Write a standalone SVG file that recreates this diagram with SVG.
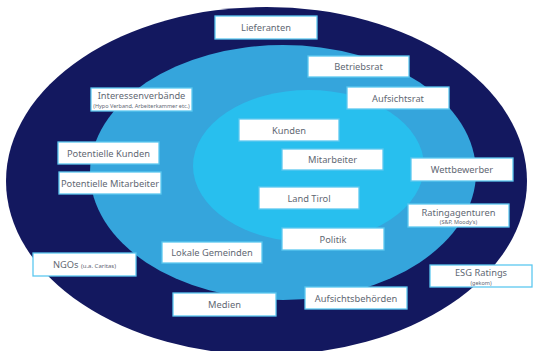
<svg xmlns="http://www.w3.org/2000/svg" width="547" height="351" viewBox="0 0 547 351">
<style>
.b{fill:#ffffff;stroke:#5cc8f0;stroke-width:1.3}
.t{font-family:"Noto Sans","Open Sans",sans-serif;font-size:9.3px;fill:#5f6873;text-anchor:middle}
.s{font-family:"Noto Sans","Open Sans",sans-serif;font-size:5.5px;fill:#5f6873;text-anchor:middle}
</style>
<rect width="547" height="351" fill="#ffffff"/>
<g id="rings">
<ellipse cx="266.5" cy="181" rx="260.5" ry="174" fill="#13185f"/>
<ellipse cx="283" cy="172.5" rx="193" ry="127.5" fill="#35a5dc"/>
<ellipse cx="308.5" cy="166" rx="115.5" ry="76" fill="#28bfee"/>
</g>
<g id="connectors"></g>
<g id="lieferanten"><rect class="b" x="215" y="16" width="102" height="23"/><text class="t" x="266" y="31">Lieferanten</text></g>
<g id="betriebsrat"><rect class="b" x="308" y="56" width="101" height="21"/><text class="t" x="358.5" y="70">Betriebsrat</text></g>
<g id="aufsichtsrat"><rect class="b" x="347" y="87" width="102" height="22"/><text class="t" x="398" y="101.5">Aufsichtsrat</text></g>
<g id="interessenverbaende"><rect class="b" x="91" y="88" width="101" height="23"/><text class="t" x="141.5" y="98.5">Interessenverbände</text><text class="s" x="141.5" y="107.5">(Hypo Verband, Arbeiterkammer etc.)</text></g>
<g id="kunden"><rect class="b" x="239" y="119" width="100" height="22"/><text class="t" x="289" y="133.5">Kunden</text></g>
<g id="mitarbeiter"><rect class="b" x="282" y="149" width="101" height="21"/><text class="t" x="332.5" y="163">Mitarbeiter</text></g>
<g id="potentielle-kunden"><rect class="b" x="58" y="142" width="101" height="22"/><text class="t" x="108.5" y="156.5">Potentielle Kunden</text></g>
<g id="potentielle-mitarbeiter"><rect class="b" x="59" y="172" width="102" height="22"/><text class="t" x="110" y="186.5">Potentielle Mitarbeiter</text></g>
<g id="wettbewerber"><rect class="b" x="411" y="158" width="102" height="23"/><text class="t" x="462" y="173">Wettbewerber</text></g>
<g id="land-tirol"><rect class="b" x="259" y="187" width="100" height="22"/><text class="t" x="309" y="201.5">Land Tirol</text></g>
<g id="ratingagenturen"><rect class="b" x="408" y="204" width="101" height="23"/><text class="t" x="458.5" y="215.5">Ratingagenturen</text><text class="s" x="458.5" y="223.5">(S&amp;P, Moody’s)</text></g>
<g id="politik"><rect class="b" x="282" y="228" width="102" height="22"/><text class="t" x="333" y="242.5">Politik</text></g>
<g id="lokale-gemeinden"><rect class="b" x="162" y="242" width="100" height="21"/><text class="t" x="212" y="256">Lokale Gemeinden</text></g>
<g id="ngos"><rect class="b" x="33" y="253" width="103" height="23"/><text class="t" x="84.5" y="268">NGOs <tspan font-size="6px">(u.a. Caritas)</tspan></text></g>
<g id="esg-ratings"><rect class="b" x="430" y="265" width="102" height="22"/><text class="t" x="481" y="276">ESG Ratings</text><text class="s" x="481" y="284.5">(gekom)</text></g>
<g id="medien"><rect class="b" x="173" y="293" width="103" height="23"/><text class="t" x="224.5" y="308">Medien</text></g>
<g id="aufsichtsbehoerden"><rect class="b" x="305" y="287" width="102" height="22"/><text class="t" x="356" y="301.5">Aufsichtsbehörden</text></g>
</svg>
